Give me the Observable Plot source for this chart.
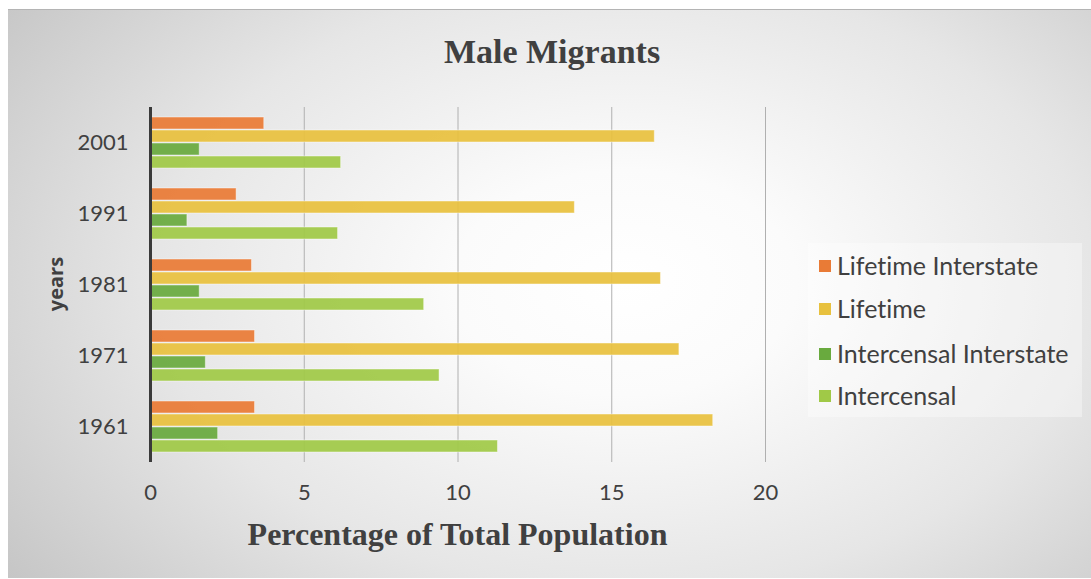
<!DOCTYPE html>
<html>
<head>
<meta charset="utf-8">
<script src="https://cdn.jsdelivr.net/npm/d3@7"></script>
<script src="https://cdn.jsdelivr.net/npm/@observablehq/plot@0.6"></script>
<style>
  html, body { margin: 0; padding: 0; background: #fff; }
  #wrap { position: relative; width: 1091px; height: 579px; overflow: hidden; }
  #bg { position: absolute; left: 8px; top: 9px; right: 0; bottom: 1px;
        border-top: 1px solid #b4b4b4;
        background: radial-gradient(ellipse 72% 90% at 57% 48%, #ffffff 0%, #fbfbfb 22%, #e6e6e6 60%, #c4c4c4 100%); }
  #chart { position: absolute; left: 0; top: 0; }
  #chart svg { background: transparent !important; }
  .title { position: absolute; left: 0; width: 1104px; top: 33px; text-align: center;
           font-family: "Liberation Serif", "Times New Roman", serif; font-weight: bold; font-size: 34px; color: #404040; }
  .xlabel { position: absolute; left: 150px; width: 615px; top: 516px; text-align: center;
           font-family: "Liberation Serif", "Times New Roman", serif; font-weight: bold; font-size: 32px; color: #404040; }
  .ylabel { position: absolute; left: 55px; top: 284px; transform: translate(-50%, -50%) rotate(-90deg);
           font-family: "Open Sans", Lato, sans-serif; font-weight: bold; font-size: 20px; color: #404040; white-space: nowrap; }
  .legend { position: absolute; left: 808px; top: 243px; width: 274px; height: 174px;
            background: rgba(255,255,255,0.35); font-family: Lato, sans-serif; font-size: 25px; color: #404040;
            font-variant-ligatures: none; }
  .legend .item { position: absolute; left: 11px; height: 30px; display: flex; align-items: center; white-space: nowrap; }
  .legend .sw { width: 12px; height: 12px; margin-right: 6px; margin-top: 2px; }
</style>
</head>
<body>
<div id="wrap">
  <div id="bg"></div>
  <div id="chart"></div>
  <div class="title">Male Migrants</div>
  <div class="xlabel">Percentage of Total Population</div>
  <div class="ylabel">years</div>
  <div class="legend" id="legend"></div>
</div>
<script>
const years = ["2001", "1991", "1981", "1971", "1961"];
const series = ["Lifetime Interstate", "Lifetime", "Intercensal Interstate", "Intercensal"];
const colors = ["#E97B36", "#E8C13E", "#69AA3E", "#A0C947"];
const lifetimeInterstate    = [3.7, 2.8, 3.3, 3.4, 3.4];
const lifetime              = [16.4, 13.8, 16.6, 17.2, 18.3];
const intercensalInterstate = [1.6, 1.2, 1.6, 1.8, 2.2];
const intercensal           = [6.2, 6.1, 8.9, 9.4, 11.3];
const xTicks = [0, 5, 10, 15, 20];

const valuesBySeries = [lifetimeInterstate, lifetime, intercensalInterstate, intercensal];
const data = [];
years.forEach((yr, i) => series.forEach((s, j) => data.push({year: yr, series: s, value: valuesBySeries[j][i]})));

const chart = Plot.plot({
  width: 1091,
  height: 579,
  marginLeft: 150,
  marginRight: 326,
  marginTop: 105,
  marginBottom: 116,
  style: {background: "transparent", color: "#404040", fontFamily: "Lato, sans-serif", fontSize: "22px"},
  x: {domain: [0, 20], ticks: xTicks, tickSize: 0, tickPadding: 22, label: null},
  y: {domain: series, axis: null, paddingInner: 0.09, paddingOuter: 0.77},
  fy: {domain: years, axis: "left", padding: 0, tickSize: 0, tickPadding: 22, label: null},
  color: {domain: series, range: colors},
  marks: [
    Plot.ruleX(xTicks.slice(1), {stroke: "#b0b0b0", strokeWidth: 1}),
    Plot.barX(data, {x: "value", y: "series", fy: "year", fill: "series", fillOpacity: 0.93,
                     stroke: "#ffffff", strokeOpacity: 0.45, strokeWidth: 1}),
    Plot.ruleX([0], {stroke: "#3a3a3a", strokeWidth: 3})
  ]
});
document.getElementById("chart").appendChild(chart);

const legend = document.getElementById("legend");
const rowCenters = [22, 65, 110, 152];
series.forEach((s, j) => {
  const it = document.createElement("div");
  it.className = "item";
  it.style.top = (rowCenters[j] - 15) + "px";
  const sw = document.createElement("span");
  sw.className = "sw";
  sw.style.background = chart.scale("color").apply(s);
  const tx = document.createElement("span");
  tx.textContent = s;
  it.appendChild(sw); it.appendChild(tx);
  legend.appendChild(it);
});
</script>
</body>
</html>
